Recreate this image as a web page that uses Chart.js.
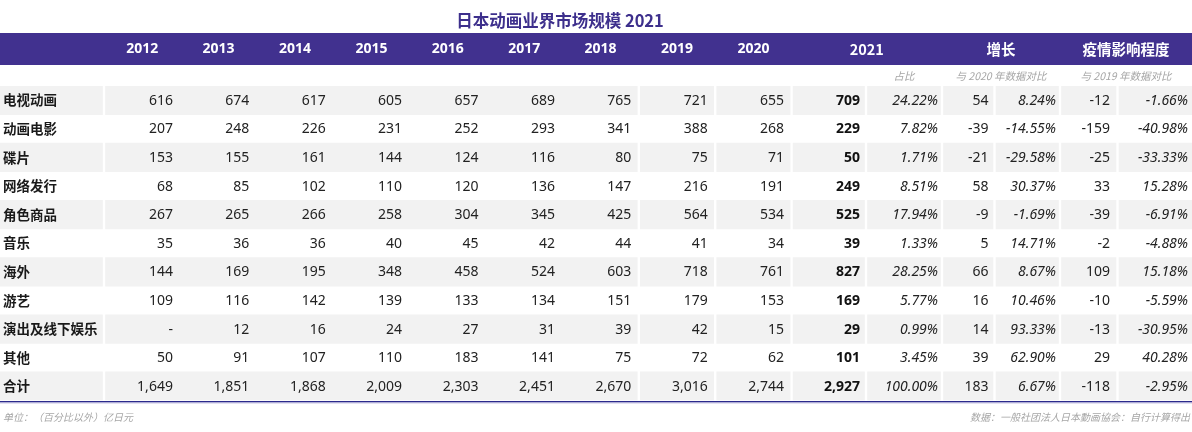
<!DOCTYPE html>
<html lang="zh">
<head>
<meta charset="utf-8">
<title>日本动画业界市场规模 2021</title>
<script src="https://cdn.jsdelivr.net/npm/chart.js@4"></script>
<style>
  body { margin: 0; background: #fff; }
  #contenedor { position: relative; width: 1192px; height: 432px; }
</style>
</head>
<body>
<div id="contenedor"><canvas id="tabla"></canvas></div>
<script>
// datos de la tabla
const titulo = "日本动画业界市场规模 2021";
const categorias = ["电视动画", "动画电影", "碟片", "网络发行", "角色商品", "音乐", "海外", "游艺", "演出及线下娱乐", "其他", "合计"];
const anios = ["2012", "2013", "2014", "2015", "2016", "2017", "2018", "2019", "2020"];
const historico = [
  [616, 674, 617, 605, 657, 689, 765, 721, 655],
  [207, 248, 226, 231, 252, 293, 341, 388, 268],
  [153, 155, 161, 144, 124, 116, 80, 75, 71],
  [68, 85, 102, 110, 120, 136, 147, 216, 191],
  [267, 265, 266, 258, 304, 345, 425, 564, 534],
  [35, 36, 36, 40, 45, 42, 44, 41, 34],
  [144, 169, 195, 348, 458, 524, 603, 718, 761],
  [109, 116, 142, 139, 133, 134, 151, 179, 153],
  [null, 12, 16, 24, 27, 31, 39, 42, 15],
  [50, 91, 107, 110, 183, 141, 75, 72, 62],
  [1649, 1851, 1868, 2009, 2303, 2451, 2670, 3016, 2744]
];
const valor2021 = [709, 229, 50, 249, 525, 39, 827, 169, 29, 101, 2927];
const participacion = [24.22, 7.82, 1.71, 8.51, 17.94, 1.33, 28.25, 5.77, 0.99, 3.45, 100.00];
const cambio2020 = [54, -39, -21, 58, -9, 5, 66, 16, 14, 39, 183];
const cambioPct2020 = [8.24, -14.55, -29.58, 30.37, -1.69, 14.71, 8.67, 10.46, 93.33, 62.90, 6.67];
const cambio2019 = [-12, -159, -25, 33, -39, -2, 109, -10, -13, 29, -118];
const cambioPct2019 = [-1.66, -40.98, -33.33, 15.28, -6.91, -4.88, 15.18, -5.59, -30.95, 40.28, -2.95];
const encabezados = ["2021", "增长", "疫情影响程度"];
const subEncabezados = ["占比", "与 2020 年数据对比", "与 2019 年数据对比"];
const notaUnidad = "单位：（百分比以外）亿日元";
const notaFuente = "数据：一般社团法人日本動画協会：自行计算得出";

// diseño: anchos de columna (px)
const anchoEtiqueta = 104;
const anchoAnio = 76.4;
const anchosExtra = [74.4, 76, 52.5, 65.5, 57.5, 74.5];
const bordes = [0, anchoEtiqueta];
anios.forEach(() => bordes.push(bordes[bordes.length - 1] + anchoAnio));
anchosExtra.forEach(a => bordes.push(bordes[bordes.length - 1] + a));
const ultimaCol = bordes.length - 2;

// grupos de celdas grises (indices de columna)
const gruposGris = [[0, 0], [1, 7], [8, 8], [9, 9], [10, 10], [11, 11], [12, 12], [13, 13], [14, 14], [15, 15]];
const grupoEncabezado = [[10, 11], [12, 13], [14, 15]];
const grupoSub = [[11, 11], [12, 13], [14, 15]];

const colorMorado = "#41318f";
const colorGris = "#f2f2f2";
const fuenteNum = '"Noto Sans", "Noto Sans CJK SC", sans-serif';
const fuenteCJK = '"Noto Sans CJK SC", "Noto Sans", sans-serif';

function formatoNumero(v) {
  if (v === null) return "-";
  return v.toLocaleString("en-US");
}

function formatoPct(v) {
  return v.toFixed(2) + "%";
}

function celda(fila, col) {
  if (col >= 1 && col <= anios.length) return { t: formatoNumero(historico[fila][col - 1]) };
  switch (col) {
    case 10: return { t: formatoNumero(valor2021[fila]), negrita: true };
    case 11: return { t: formatoPct(participacion[fila]), italica: true };
    case 12: return { t: String(cambio2020[fila]) };
    case 13: return { t: formatoPct(cambioPct2020[fila]), italica: true };
    case 14: return { t: String(cambio2019[fila]) };
    case 15: return { t: formatoPct(cambioPct2019[fila]), italica: true };
  }
  return { t: "" };
}

const datasetsGris = gruposGris.map(g => ({
  data: categorias.map((c, i) => i % 2 === 0
    ? [bordes[g[0]] + (g[0] > 0 ? 1.5 : 0), bordes[g[1] + 1] - (g[1] < ultimaCol ? 1.5 : 0)]
    : null),
  backgroundColor: colorGris,
  borderWidth: 0,
  barPercentage: 1,
  categoryPercentage: 1,
  grouped: false
}));

const pintarTabla = {
  id: "pintarTabla",
  afterDatasetsDraw(chart) {
    const ctx = chart.ctx;
    const x = chart.scales.x;
    const y = chart.scales.y;
    const px = v => x.getPixelForValue(v);
    ctx.save();

    // titulo
    ctx.fillStyle = "#3d2f8c";
    ctx.font = "bold 16.5px " + fuenteCJK;
    ctx.textAlign = "center";
    ctx.textBaseline = "middle";
    ctx.fillText(titulo, 560, 21);

    // banda de encabezado
    ctx.fillStyle = colorMorado;
    ctx.fillRect(px(0), 33, px(bordes[ultimaCol + 1]) - px(0), 32);
    ctx.fillStyle = "#ffffff";
    ctx.font = "bold 14px " + fuenteNum;
    anios.forEach((a, k) => {
      ctx.fillText(a, px((bordes[k + 1] + bordes[k + 2]) / 2), 49.5);
    });
    ctx.font = "bold 14.5px " + fuenteCJK;
    encabezados.forEach((e, k) => {
      const g = grupoEncabezado[k];
      ctx.fillText(e, px((bordes[g[0]] + bordes[g[1] + 1]) / 2), 49);
    });

    // subencabezados
    ctx.fillStyle = "#a6a6a6";
    ctx.font = "italic 10.5px " + fuenteCJK;
    subEncabezados.forEach((s, k) => {
      const g = grupoSub[k];
      ctx.fillText(s, px((bordes[g[0]] + bordes[g[1] + 1]) / 2), 76);
    });

    // filas
    categorias.forEach((cat, i) => {
      const yc = y.getPixelForValue(i);
      ctx.textAlign = "left";
      ctx.fillStyle = "#1a1a1a";
      ctx.font = "bold 13.5px " + fuenteCJK;
      ctx.fillText(cat, px(0) + 3, yc);
      ctx.textAlign = "right";
      for (let col = 1; col <= ultimaCol; col++) {
        const c = celda(i, col);
        let estilo = "";
        let relleno = 7.5;
        if (c.negrita) { estilo = "bold "; relleno = 6; ctx.fillStyle = "#111111"; }
        else { ctx.fillStyle = "#222222"; }
        if (c.italica) { estilo = "italic "; relleno = 4; }
        if (col === 12) relleno = 6;
        ctx.font = estilo + "14px " + fuenteNum;
        ctx.fillText(c.t, px(bordes[col + 1]) - relleno, yc + 0.5);
      }
    });

    // linea inferior
    const yFin = chart.chartArea.bottom;
    ctx.fillStyle = "#2b2a8c";
    ctx.fillRect(px(0), yFin + 0.5, px(bordes[ultimaCol + 1]) - px(0), 1.5);
    ctx.fillStyle = "#c9c6e6";
    ctx.fillRect(px(0), yFin + 2, px(bordes[ultimaCol + 1]) - px(0), 1);

    // notas
    ctx.fillStyle = "#a6a6a6";
    ctx.font = "italic 10px " + fuenteCJK;
    ctx.textAlign = "left";
    ctx.fillText(notaUnidad, px(0) + 3, 417);
    ctx.textAlign = "right";
    ctx.fillText(notaFuente, px(bordes[ultimaCol + 1]) - 2, 417);

    ctx.restore();
  }
};

new Chart(document.getElementById("tabla"), {
  type: "bar",
  data: {
    labels: categorias,
    datasets: datasetsGris
  },
  options: {
    indexAxis: "y",
    responsive: true,
    maintainAspectRatio: false,
    animation: false,
    events: [],
    layout: { padding: { top: 86, bottom: 31.5, left: 0, right: 0 } },
    scales: {
      x: { type: "linear", min: 0, max: bordes[ultimaCol + 1], display: false },
      y: { type: "category", display: false }
    },
    plugins: {
      legend: { display: false },
      tooltip: { enabled: false }
    }
  },
  plugins: [pintarTabla]
});
</script>
</body>
</html>
